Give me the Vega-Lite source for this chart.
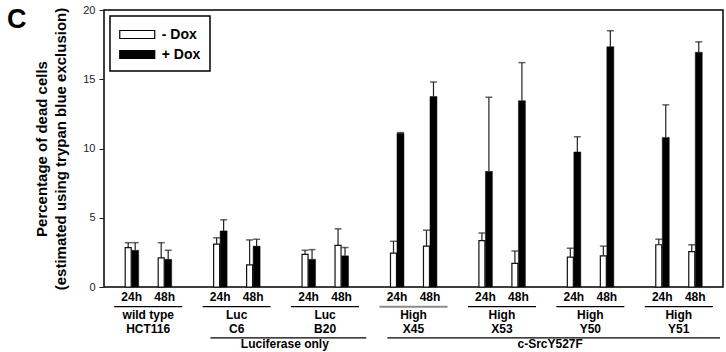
{
  "$schema": "https://vega.github.io/schema/vega-lite/v6.json",
  "width": 619,
  "height": 277,
  "autosize": "none",
  "padding": {"left": 104, "top": 10, "right": 3, "bottom": 65},
  "background": "white",
  "title": {"text": "C", "anchor": "start", "frame": "group", "fontSize": 27, "fontWeight": "bold", "font": "Liberation Sans", "color": "black", "dx": -97, "dy": 30, "offset": 0},
  "config": {"view": {"stroke": "black", "strokeWidth": 1.5}, "font": "Liberation Sans"},
  "datasets": {
    "bars": [
      {"group": "HCT116", "time": "24h", "dox": "- Dox", "value": 2.85, "upper": 3.2},
      {"group": "HCT116", "time": "24h", "dox": "+ Dox", "value": 2.65, "upper": 3.2},
      {"group": "HCT116", "time": "48h", "dox": "- Dox", "value": 2.1, "upper": 3.2},
      {"group": "HCT116", "time": "48h", "dox": "+ Dox", "value": 2.0, "upper": 2.65},
      {"group": "C6", "time": "24h", "dox": "- Dox", "value": 3.1, "upper": 3.55},
      {"group": "C6", "time": "24h", "dox": "+ Dox", "value": 4.05, "upper": 4.85},
      {"group": "C6", "time": "48h", "dox": "- Dox", "value": 1.6, "upper": 3.4},
      {"group": "C6", "time": "48h", "dox": "+ Dox", "value": 2.95, "upper": 3.45},
      {"group": "B20", "time": "24h", "dox": "- Dox", "value": 2.35, "upper": 2.65},
      {"group": "B20", "time": "24h", "dox": "+ Dox", "value": 2.0, "upper": 2.7},
      {"group": "B20", "time": "48h", "dox": "- Dox", "value": 3.0, "upper": 4.2},
      {"group": "B20", "time": "48h", "dox": "+ Dox", "value": 2.25, "upper": 2.85},
      {"group": "X45", "time": "24h", "dox": "- Dox", "value": 2.45, "upper": 3.3},
      {"group": "X45", "time": "24h", "dox": "+ Dox", "value": 11.1, "upper": 11.15},
      {"group": "X45", "time": "48h", "dox": "- Dox", "value": 2.95, "upper": 4.1},
      {"group": "X45", "time": "48h", "dox": "+ Dox", "value": 13.75, "upper": 14.8},
      {"group": "X53", "time": "24h", "dox": "- Dox", "value": 3.35, "upper": 3.9},
      {"group": "X53", "time": "24h", "dox": "+ Dox", "value": 8.35, "upper": 13.7},
      {"group": "X53", "time": "48h", "dox": "- Dox", "value": 1.7, "upper": 2.6},
      {"group": "X53", "time": "48h", "dox": "+ Dox", "value": 13.45, "upper": 16.2},
      {"group": "Y50", "time": "24h", "dox": "- Dox", "value": 2.15, "upper": 2.8},
      {"group": "Y50", "time": "24h", "dox": "+ Dox", "value": 9.75, "upper": 10.85},
      {"group": "Y50", "time": "48h", "dox": "- Dox", "value": 2.25, "upper": 2.95},
      {"group": "Y50", "time": "48h", "dox": "+ Dox", "value": 17.35, "upper": 18.5},
      {"group": "Y51", "time": "24h", "dox": "- Dox", "value": 3.05, "upper": 3.45},
      {"group": "Y51", "time": "24h", "dox": "+ Dox", "value": 10.8, "upper": 13.15},
      {"group": "Y51", "time": "48h", "dox": "- Dox", "value": 2.55, "upper": 3.05},
      {"group": "Y51", "time": "48h", "dox": "+ Dox", "value": 16.95, "upper": 17.7}
    ],
    "groups": [
      {"group": "HCT116", "label": "wild type\nHCT116"},
      {"group": "C6", "label": "Luc\nC6"},
      {"group": "B20", "label": "Luc\nB20"},
      {"group": "X45", "label": "High\nX45"},
      {"group": "X53", "label": "High\nX53"},
      {"group": "Y50", "label": "High\nY50"},
      {"group": "Y51", "label": "High\nY51"}
    ],
    "supers": [
      {"label": "Luciferase only", "from": "C6", "to": "B20", "mid": "C6"},
      {"label": "c-SrcY527F", "from": "X45", "to": "Y51", "mid": "X53"}
    ]
  },
  "data": {"name": "bars"},
  "resolve": {"scale": {"xOffset": "independent"}},
  "layer": [
    {
      "transform": [{"filter": "datum.dox === '- Dox'"}],
      "encoding": {
        "x": {"field": "group", "type": "nominal", "scale": {"domain": ["HCT116", "C6", "B20", "X45", "X53", "Y50", "Y51"], "paddingInner": 0, "paddingOuter": 0}, "axis": null},
        "xOffset": {"field": "time", "type": "nominal", "scale": {"type": "band", "domain": ["24h", "48h"], "paddingInner": 0, "paddingOuter": 0.34, "align": 0.343}}
      },
      "layer": [
        {
          "mark": {"type": "bar", "width": 6, "stroke": "#111", "strokeWidth": 1.2},
          "encoding": {
            "y": {"field": "value", "type": "quantitative", "scale": {"domain": [0, 20]},
              "axis": {"values": [0, 5, 10, 15, 20], "grid": false, "domain": false, "tickSize": 5, "tickColor": "#222", "labelFont": "Liberation Sans", "labelFontSize": 11, "labelColor": "#222", "labelPadding": 4,
                "title": ["Percentage of dead cells", "(estimated using trypan blue exclusion)"], "titleFont": "Liberation Sans", "titleFontSize": 15, "titleFontWeight": "bold", "titleColor": "black", "titlePadding": 14, "titleLineHeight": 19}},
            "fill": {"field": "dox", "type": "nominal", "scale": {"domain": ["- Dox", "+ Dox"], "range": ["white", "black"]},
              "legend": {"orient": "top-left", "offset": 6, "title": null, "strokeColor": "black", "fillColor": "white", "padding": 9, "symbolType": "M-2,-0.46H2V0.46H-2Z", "symbolSize": 306, "symbolOffset": 8.75, "symbolStrokeColor": "black", "symbolStrokeWidth": 1.2, "labelFont": "Liberation Sans", "labelFontSize": 14, "labelFontWeight": "bold", "labelColor": "black", "labelOffset": 15, "rowPadding": 3,
                "labelExpr": "datum.label === '- Dox' ? '-  Dox' : datum.label",
                "encode": {"legend": {"update": {"strokeWidth": {"value": 1.5}}}}}}
          }
        },
        {
          "mark": {"type": "rule", "color": "#222", "strokeWidth": 1.2},
          "encoding": {"y": {"field": "value", "type": "quantitative"}, "y2": {"field": "upper"}}
        },
        {
          "mark": {"type": "tick", "color": "#222", "size": 7, "thickness": 1.5, "orient": "horizontal"},
          "encoding": {"y": {"field": "upper", "type": "quantitative"}}
        }
      ]
    },
    {
      "transform": [{"filter": "datum.dox === '+ Dox'"}],
      "encoding": {
        "x": {"field": "group", "type": "nominal", "scale": {"domain": ["HCT116", "C6", "B20", "X45", "X53", "Y50", "Y51"], "paddingInner": 0, "paddingOuter": 0}, "axis": null},
        "xOffset": {"field": "time", "type": "nominal", "scale": {"type": "band", "domain": ["24h", "48h"], "paddingInner": 0, "paddingOuter": 0.34, "align": 0.655}}
      },
      "layer": [
        {
          "mark": {"type": "bar", "width": 7, "stroke": "#111", "strokeWidth": 0.5},
          "encoding": {
            "y": {"field": "value", "type": "quantitative"},
            "fill": {"field": "dox", "type": "nominal"}
          }
        },
        {
          "mark": {"type": "rule", "color": "#222", "strokeWidth": 1.2},
          "encoding": {"y": {"field": "value", "type": "quantitative"}, "y2": {"field": "upper"}}
        },
        {
          "mark": {"type": "tick", "color": "#222", "size": 7, "thickness": 1.5, "orient": "horizontal"},
          "encoding": {"y": {"field": "upper", "type": "quantitative"}}
        }
      ]
    },
    {
      "transform": [{"filter": "datum.dox === '- Dox'"}],
      "mark": {"type": "text", "fontWeight": "bold", "fontSize": 12, "baseline": "middle", "color": "black"},
      "encoding": {
        "x": {"field": "group", "type": "nominal", "scale": {"domain": ["HCT116", "C6", "B20", "X45", "X53", "Y50", "Y51"], "paddingInner": 0, "paddingOuter": 0}, "axis": null},
        "xOffset": {"field": "time", "type": "nominal", "scale": {"type": "band", "domain": ["24h", "48h"], "paddingInner": 0, "paddingOuter": 0.34, "align": 0.5}},
        "y": {"datum": -0.7, "type": "quantitative"},
        "text": {"field": "time"}
      }
    },
    {
      "data": {"name": "groups"},
      "mark": {"type": "rule", "xOffset": -34, "x2Offset": 34},
      "encoding": {
        "x": {"field": "group", "type": "nominal", "scale": {"domain": ["HCT116", "C6", "B20", "X45", "X53", "Y50", "Y51"], "paddingInner": 0, "paddingOuter": 0}, "axis": null},
        "x2": {"field": "group"},
        "y": {"datum": -1.42, "type": "quantitative"},
        "color": {"condition": {"test": "datum.group === 'X45'", "value": "#8a8a8a"}, "value": "black"},
        "strokeWidth": {"condition": {"test": "datum.group === 'X45'", "value": 2}, "value": 1.2}
      }
    },
    {
      "data": {"name": "groups"},
      "mark": {"type": "text", "fontWeight": "bold", "fontSize": 12, "baseline": "top", "lineBreak": "\n", "lineHeight": 14, "color": "black"},
      "encoding": {
        "x": {"field": "group", "type": "nominal", "scale": {"domain": ["HCT116", "C6", "B20", "X45", "X53", "Y50", "Y51"], "paddingInner": 0, "paddingOuter": 0}, "axis": null},
        "y": {"datum": -1.68, "type": "quantitative"},
        "text": {"field": "label"}
      }
    },
    {
      "data": {"name": "supers"},
      "mark": {"type": "rule", "color": "black", "strokeWidth": 1.2, "xOffset": 18, "x2Offset": -3},
      "encoding": {
        "x": {"field": "from", "type": "nominal", "bandPosition": 0, "scale": {"domain": ["HCT116", "C6", "B20", "X45", "X53", "Y50", "Y51"], "paddingInner": 0, "paddingOuter": 0}, "axis": null},
        "x2": {"field": "to", "bandPosition": 1},
        "y": {"datum": -3.68, "type": "quantitative"}
      }
    },
    {
      "data": {"name": "supers"},
      "mark": {"type": "text", "fontWeight": "bold", "fontSize": 12, "baseline": "middle", "color": "black", "dx": 4},
      "encoding": {
        "x": {"field": "mid", "type": "nominal", "bandPosition": 1, "scale": {"domain": ["HCT116", "C6", "B20", "X45", "X53", "Y50", "Y51"], "paddingInner": 0, "paddingOuter": 0}, "axis": null},
        "y": {"datum": -4.15, "type": "quantitative"},
        "text": {"field": "label"}
      }
    }
  ]
}
